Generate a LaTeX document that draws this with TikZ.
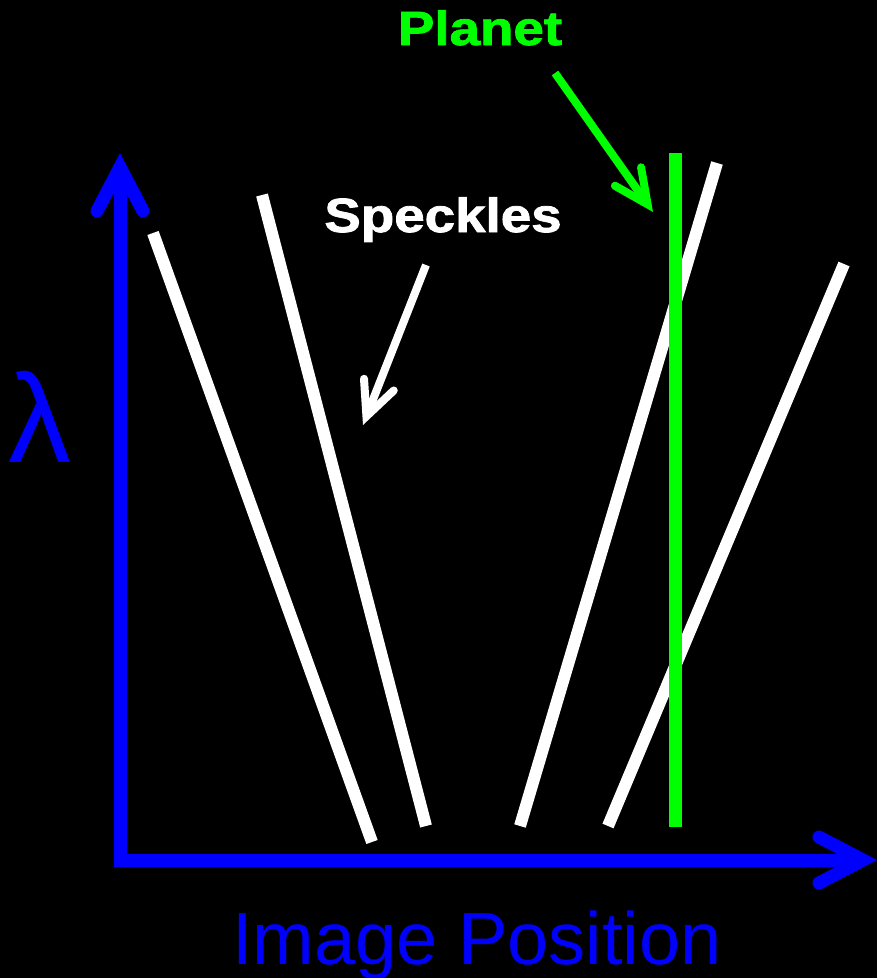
\documentclass[tikz,border=0pt]{standalone}
\usepackage{fontspec}
\setmainfont{Liberation Sans}
\newfontfamily\heavyfont[FakeBold=1.6]{Liberation Sans Bold}
\usepackage{tikz}
\usetikzlibrary{arrows.meta}
\definecolor{axisblue}{HTML}{0000FF}
\definecolor{planetgreen}{HTML}{00FF00}
\tikzset{
  axisline/.style={draw=axisblue, line width=13pt,
                   -{Straight Barb[length=44pt, width=46pt, line cap=round, line join=miter]}},
  streak/.style={draw=white, line width=12pt},
  planetline/.style={draw=planetgreen, line width=13pt},
  pointer/.style={line width=8pt,
                  -{Straight Barb[length=34pt, width=32pt, line cap=round, line join=miter]}},
  tag/.style={font=\heavyfont\fontsize{48}{48}\selectfont, inner sep=0pt, anchor=base}
}

\begin{document}
\begin{tikzpicture}[x=1pt, y=-1pt]

  %% Canvas
  \fill[black] (0,0) rectangle (877,978);
  \useasboundingbox (0,0) rectangle (877,978);

  %% Axes
  \coordinate (origin) at (120,860);
  \draw[axisline] (114,860) -- (877,860);
  \draw[axisline] (120,866) -- (120,153);
  \node[anchor=base, inner sep=0pt, text=axisblue, font=\fontsize{74}{74}\selectfont]
        (xlabel) at (477,964) {Image Position};
  \node[anchor=base, inner sep=0pt, text=axisblue, font=\fontsize{126}{126}\selectfont]
        (ylabel) at (40,462) {λ};

  %% Speckle streaks
  \draw[streak] (153,233) -- (372,842);
  \draw[streak] (262,195) -- (426,826);
  \draw[streak] (717,163) -- (520,826);
  \draw[streak] (844,264) -- (608,826);

  %% Planet trace
  \draw[planetline] (675,153) -- (675,827);

  %% Labels
  \node[tag, text=planetgreen] (planet) at (480,45) {\scalebox{1.14}[1]{Planet}};
  \node[tag, text=white] (speckles) at (443,232) {\scalebox{1.14}[1]{Speckles}};
  \coordinate (planetfrom) at (555,73);
  \coordinate (planetto) at (653,212);
  \coordinate (specklefrom) at (426,265);
  \coordinate (speckleto) at (363,425);
  \draw[pointer, draw=planetgreen] (planetfrom) -- (planetto);
  \draw[pointer, draw=white] (specklefrom) -- (speckleto);

\end{tikzpicture}
\end{document}
